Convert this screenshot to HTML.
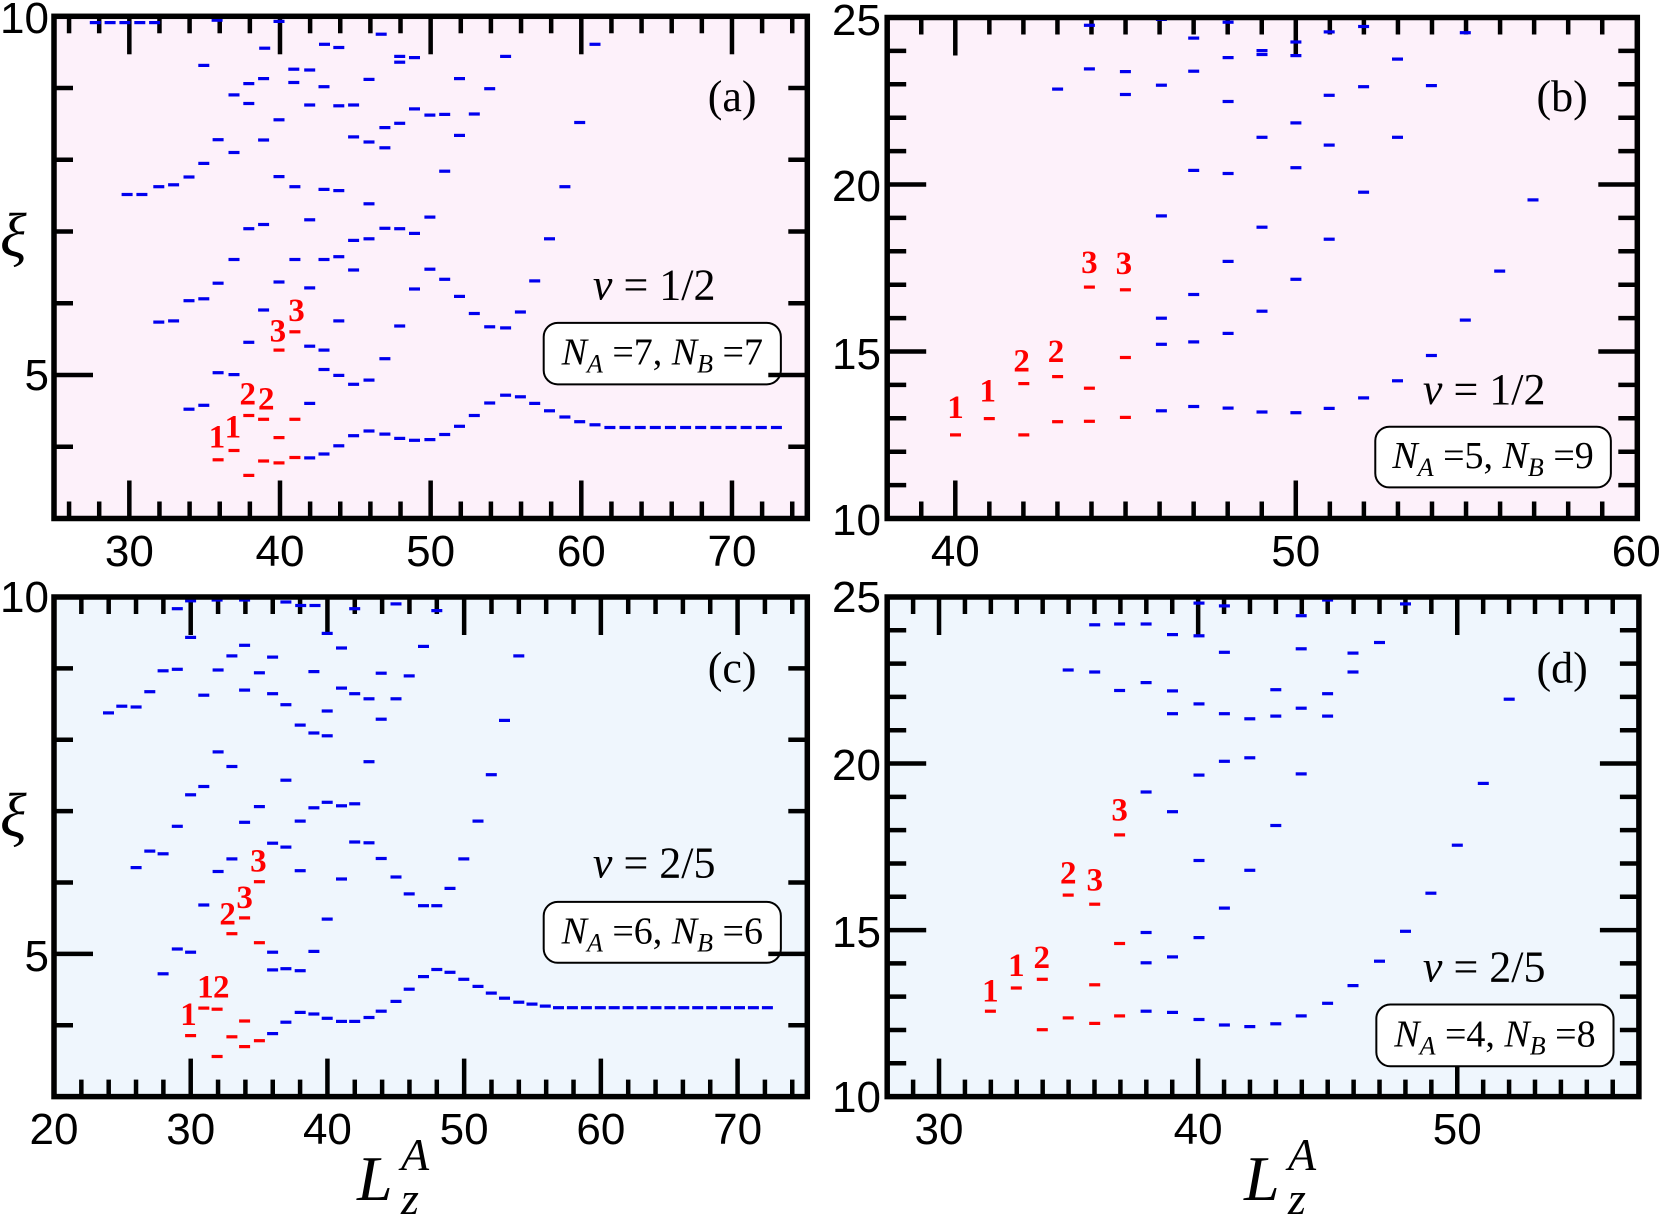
<!DOCTYPE html>
<html><head><meta charset="utf-8"><style>
html,body{margin:0;padding:0;background:#fff;}
svg{display:block;}
</style></head><body>
<svg id="s" xmlns="http://www.w3.org/2000/svg" width="1660" height="1217" viewBox="0 0 1660 1217"></svg>
<script>
const S=document.getElementById('s');
const K=0.5294;
let h='';
function mkX(L,R,xmin,xmax){return v=>L+(v-xmin)*(R-L)/(xmax-xmin);}
function panel(o){
  const {L,R,T,B,bg,xmin,xmax,ymin,ymax,xminor,xmajor,ymajor}=o;
  const X=mkX(L,R,xmin,xmax);
  const Y=v=>B-(v-ymin)*(B-T)/(ymax-ymin);
  h+=`<rect x="${L}" y="${T}" width="${R-L}" height="${B-T}" fill="${bg}"/>`;
  for(let v=Math.ceil(xmin/xminor-1e-6)*xminor; v<=xmax+1e-6; v+=xminor){
    const x=X(v); if(x<=L+3||x>=R-3) continue;
    const len=(Math.abs(v/xmajor-Math.round(v/xmajor))<1e-6)?38:17;
    h+=`<line x1="${x}" y1="${B}" x2="${x}" y2="${B-len}" stroke="#000" stroke-width="4.5"/>`;
    h+=`<line x1="${x}" y1="${T}" x2="${x}" y2="${T+len}" stroke="#000" stroke-width="4.5"/>`;
  }
  for(let v=ymin+1; v<ymax; v++){
    const y=Y(v);
    const len=(v%ymajor===0)?39:19;
    h+=`<line x1="${L}" y1="${y}" x2="${L+len}" y2="${y}" stroke="#000" stroke-width="4.5"/>`;
    o.rt=(o.rt||[]); o.rt.push([y,len]);
  }
}
function rightTicks(o){ for(const [y,len] of o.rt) h+=`<line x1="${o.R}" y1="${y}" x2="${o.R-len}" y2="${y}" stroke="#000" stroke-width="4.5"/>`; }
function dashes(ox,oy,sy,arr,col){
  for(let i=0;i<arr.length;i+=2){
    const x=ox+arr[i]*K, y=oy+arr[i+1]*sy;
    h+=`<rect x="${(x-5.5).toFixed(1)}" y="${(y-1.6).toFixed(1)}" width="11" height="3.2" fill="${col}"/>`;
  }
}
function labels(ox,oy,sy,arr){
  for(const [t,zx,zy] of arr){
    h+=`<text x="${ox+zx*K}" y="${oy+zy*sy}" text-anchor="middle" font-family="Liberation Serif, serif" font-weight="bold" font-size="33" fill="#f00">${t}</text>`;
  }
}
function info(ox,oy,sy,nuTxt,nuBase,box,nA,nB,lab,labBase){
  const Xz=z=>ox+z*K, Yz=z=>oy+z*sy;
  h+=`<text x="${Xz(1120)}" y="${Yz(nuBase)}" font-family="Liberation Serif, serif" font-size="44"><tspan font-style="italic">ν</tspan> = ${nuTxt}</text>`;
  const bx=Xz(box[0]),by=Yz(box[1]),bw=Xz(box[2])-bx,bh=Yz(box[3])-by;
  h+=`<rect x="${bx}" y="${by}" width="${bw}" height="${bh}" rx="14" fill="#fff" stroke="#000" stroke-width="2"/>`;
  h+=`<text x="${bx+bw/2}" y="${by+bh*0.68}" text-anchor="middle" font-family="Liberation Serif, serif" font-size="38"><tspan font-style="italic">N</tspan><tspan font-style="italic" font-size="26" dy="8">A</tspan><tspan dy="-8"> =${nA}, </tspan><tspan font-style="italic">N</tspan><tspan font-style="italic" font-size="26" dy="8">B</tspan><tspan dy="-8"> =${nB}</tspan></text>`;
  h+=`<text x="${Xz(1383)}" y="${Yz(labBase)}" text-anchor="middle" font-family="Liberation Serif, serif" font-size="44">${lab}</text>`;
}
function num(t,x,y,anchor){h+=`<text x="${x}" y="${y}" text-anchor="${anchor}" font-family="Liberation Sans, sans-serif" font-size="44">${t}</text>`;}

const PA={L:54,R:807.3,T:16.3,B:518.5,bg:'#fdf1fa',xmin:25,xmax:75,ymin:3,ymax:10,xminor:2,xmajor:10,ymajor:5};
const PB={L:887.2,R:1637.3,T:17.5,B:518.5,bg:'#fdf1fa',xmin:38,xmax:60.03,ymin:10,ymax:25,xminor:1,xmajor:10,ymajor:5};
const PC={L:54,R:807.3,T:597,B:1096.6,bg:'#eff6fd',xmin:20,xmax:75.1,ymin:3,ymax:10,xminor:2,xmajor:10,ymajor:5};
const PD={L:887.2,R:1638.9,T:597,B:1096.6,bg:'#eff6fd',xmin:28,xmax:57.01,ymin:10,ymax:25,xminor:1,xmajor:10,ymajor:5};
[PA,PB,PC,PD].forEach(panel);

const BL='#0000ee', RD='#ff0000';
let a=[180,58,208,58,236,58,264,58,292,58,410,52,527,55,
720,88,500,124,613,114,640,122,1124,114,955,145,755,145,783,148,755,160,385,168,555,178,585,180,555,212,697,204,868,202,498,202,470,215,612,223,925,228,442,244,470,266,585,270,640,272,668,270,783,280,812,296,840,294,896,293,1095,315,755,317,727,328,527,308,868,348,412,359,498,360,668,352,697,365,727,380,442,392,385,420,840,440,357,455,1067,480,527,454,557,480,612,487,640,490,240,500,268,500,300,480,328,475,697,524,812,558,585,565,470,588,498,577,727,587,755,588,783,600,668,618,697,614,1038,614,442,667,557,667,612,667,640,660,668,694,812,692,840,718,868,762,1010,722,527,725,585,740,783,743,412,728,357,773,385,768,896,806,925,840,955,843,983,802,300,828,328,825,498,797,640,825,470,880,755,838,585,890,612,900,727,922,412,958,442,963,612,950,640,965,668,988,697,977,585,1037,357,1052,385,1042,
585,1177,612,1167,640,1146,668,1120,697,1108,727,1116,755,1127,783,1132,812,1130,840,1117,868,1096,896,1068,925,1036,955,1016,983,1020,1010,1037,1038,1056,1067,1072,1095,1084,1124,1092];
for(let i=0;i<12;i++){a.push(1152+i*28.6,1099);}
dashes(0,0,0.389,a,BL);
dashes(0,0,0.389,[412,1182,442,1158,470,1222,498,1185,527,1190,557,1176,470,1068,498,1078,527,1125,557,1078,527,900,557,853],RD);
labels(0,0,0.389,[['1',410,1150],['1',440,1125],['2',468,1040],['2',503,1053],['3',525,878],['3',560,825]]);
info(0,0,0.389,'1/2',770,[1027,830,1475,988],7,7,'(a)',285);

dashes(830,0,0.389,[490,65,752,57,1008,68,626,50,880,108,687,98,943,82,1200,84,816,130,816,140,880,143,752,148,1072,152,490,177,558,184,687,183,430,229,626,219,1008,223,1136,220,558,243,943,245,752,261,880,316,816,353,943,373,1072,353,687,438,752,446,880,431,1008,494,1328,514,626,555,816,584,943,615,752,672,1265,697,880,718,687,757,626,818,816,800,1200,823,752,857,626,885,687,879,1136,914,1072,979,1008,1023,943,1050,880,1061,816,1059,752,1049,687,1045,626,1056],BL);
dashes(830,0,0.389,[237,1118,301,1076,366,1118,366,986,430,968,430,1084,490,1083,490,998,558,1073,558,919,490,738,558,745],RD);
labels(830,0,0.389,[['1',237,1075],['1',298,1032],['2',362,955],['2',427,930],['3',490,702],['3',555,705]]);
info(830,0,0.389,'1/2',1038,[1030,1097,1475,1253],5,9,'(b)',285);

let c=[360,2,410,0,462,0,540,5,568,14,595,14,335,22,670,22,748,10,825,27,
360,95,618,85,645,122,800,118,980,142,462,115,438,142,515,145,308,180,335,176,412,178,490,185,593,182,720,186,773,193,283,233,385,242,462,229,515,238,645,224,670,238,697,251,748,251,205,287,230,270,257,272,540,266,618,282,720,303,953,306,567,318,593,338,618,345,412,386,438,423,697,411,928,444,540,458,360,495,385,474,490,525,593,528,618,514,645,523,670,518,335,575,462,565,567,562,903,562,283,638,308,645,257,680,412,690,438,658,515,618,540,628,670,615,697,617,567,688,720,657,876,658,645,709,748,704,773,747,800,777,825,777,850,733,385,775,618,811,335,887,360,895,515,895,593,893,308,950,515,940,540,937,567,942,
515,1102,540,1073,567,1048,593,1052,618,1063,645,1071,670,1071,697,1061,720,1045,748,1020,773,989,800,957,825,939,850,946,876,964,903,982,928,999,953,1012,980,1022,1005,1027,1030,1032];
for(let i=0;i<16;i++){c.push(1055+i*26.3,1036);}
dashes(0,600,0.3935,c,BL);
dashes(0,600,0.3935,[360,1107,385,1037,410,1040,438,1110,462,1135,490,1120,462,1070,410,1160,438,848,462,808,490,871,490,716],RD);
labels(0,600,0.3935,[['1',356,1080],['1',388,1010],['2',418,1010],['2',430,825],['3',462,783],['3',488,690]]);
info(0,600,0.3935,'2/5',705,[1027,767,1475,922],6,6,'(c)',210);

dashes(830,600,0.3935,[697,8,745,15,940,0,1087,10,890,40,500,63,547,61,597,61,647,88,697,91,890,124,745,133,988,135,1038,108,450,178,500,183,988,183,597,210,547,230,647,231,842,228,940,238,1283,252,697,264,647,289,745,289,793,302,842,295,890,275,940,295,745,410,793,401,697,445,890,442,1234,466,597,488,647,538,842,573,1185,623,697,662,793,687,745,783,1135,745,597,845,697,858,597,922,647,907,1087,842,1038,918,988,980,940,1025,890,1057,597,1045,647,1048,697,1066,745,1080,793,1084,842,1077],BL);
dashes(830,600,0.3935,[303,1045,352,986,401,964,401,1092,450,1062,500,1076,547,1057,500,978,547,873,450,750,500,773,547,597],RD);
labels(830,600,0.3935,[['1',303,1020],['1',352,955],['2',400,935],['2',450,720],['3',500,738],['3',547,560]]);
info(830,600,0.3935,'2/5',970,[1032,1028,1480,1185],4,8,'(d)',210);

[PA,PB,PC,PD].forEach(rightTicks);
[PA,PB,PC,PD].forEach(f=>{
  h+=`<rect x="${f.L}" y="${f.T}" width="${f.R-f.L}" height="${f.B-f.T}" fill="none" stroke="#000" stroke-width="5.5"/>`;
});

const XA=mkX(PA.L,PA.R,PA.xmin,PA.xmax),XB=mkX(PB.L,PB.R,PB.xmin,PB.xmax),XC=mkX(PC.L,PC.R,PC.xmin,PC.xmax),XD=mkX(PD.L,PD.R,PD.xmin,PD.xmax);
[30,40,50,60,70].forEach(v=>num(v,XA(v),566,'middle'));
[40,50,60].forEach(v=>num(v,XB(v),566,'middle'));
[20,30,40,50,60,70].forEach(v=>num(v,XC(v),1144,'middle'));
[30,40,50].forEach(v=>num(v,XD(v),1144,'middle'));
num('10',49,33,'end'); num('5',49,390,'end');
num('25',881,35,'end'); num('20',881,201,'end'); num('15',881,369,'end'); num('10',881,535,'end');
num('10',49,612,'end'); num('5',49,971,'end');
num('25',881,612,'end'); num('20',881,780,'end'); num('15',881,947,'end'); num('10',881,1112,'end');

h+=`<text x="0" y="256" font-family="Liberation Serif, serif" font-style="italic" font-size="62">ξ</text>`;
h+=`<text x="0" y="836" font-family="Liberation Serif, serif" font-style="italic" font-size="62">ξ</text>`;
function lz(x){
  h+=`<text x="${x}" y="1200" font-family="Liberation Serif, serif" font-style="italic" font-size="64">L</text>`;
  h+=`<text x="${x+44}" y="1170" font-family="Liberation Serif, serif" font-style="italic" font-size="46">A</text>`;
  h+=`<text x="${x+44}" y="1214" font-family="Liberation Serif, serif" font-style="italic" font-size="46">z</text>`;
}
lz(357); lz(1244);
S.innerHTML=h;
</script>
</body></html>
